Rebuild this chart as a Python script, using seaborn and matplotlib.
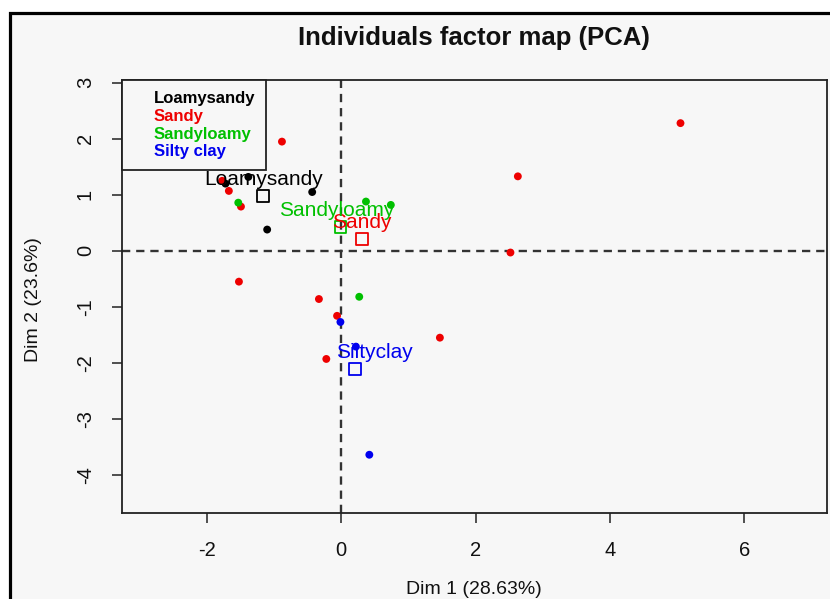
import matplotlib
matplotlib.use("Agg")
import matplotlib.pyplot as plt
from matplotlib.patches import Rectangle
from matplotlib.lines import Line2D
import seaborn as sns
import pandas as pd

# ---- data ----
groups = ["Loamysandy", "Sandy", "Sandyloamy", "Silty clay"]
loamy_x = [-1.72, -1.38, -0.43, -1.10]
loamy_y = [1.20, 1.32, 1.05, 0.38]
sandy_x = [5.05, 2.63, 2.52, -0.88, -1.77, -1.67, -1.49, -1.52, -0.33, -0.06, 1.47, -0.22]
sandy_y = [2.28, 1.33, -0.03, 1.95, 1.25, 1.07, 0.79, -0.55, -0.86, -1.16, -1.55, -1.93]
sloamy_x = [-1.53, 0.37, 0.74, 0.27]
sloamy_y = [0.86, 0.88, 0.82, -0.82]
silty_x = [-0.01, 0.22, 0.42]
silty_y = [-1.27, -1.71, -3.64]
centroid_x = [-1.16, 0.31, -0.01, 0.21]
centroid_y = [0.98, 0.21, 0.43, -2.11]
centroid_labels = ["Loamysandy", "Sandy", "Sandyloamy", "Siltyclay"]
xticks = [-2, 0, 2, 4, 6]
yticks = [-4, -3, -2, -1, 0, 1, 2, 3]

colors = ["#000000", "#ee0000", "#00c000", "#0000ee"]
palette = dict(zip(groups, colors))

df = pd.concat([
    pd.DataFrame({"x": loamy_x, "y": loamy_y, "g": groups[0]}),
    pd.DataFrame({"x": sandy_x, "y": sandy_y, "g": groups[1]}),
    pd.DataFrame({"x": sloamy_x, "y": sloamy_y, "g": groups[2]}),
    pd.DataFrame({"x": silty_x, "y": silty_y, "g": groups[3]}),
], ignore_index=True)
cdf = pd.DataFrame({"x": centroid_x, "y": centroid_y, "g": groups, "lab": centroid_labels})

sns.set_theme(style="white")
plt.rcParams["font.family"] = ["Liberation Sans", "DejaVu Sans"]
plt.rcParams["axes.unicode_minus"] = False

W, H = 830, 599
fig = plt.figure(figsize=(W / 100, H / 100), dpi=100, facecolor="white")
fig.patches.append(Rectangle((9.5 / W, -0.2), 1.2, 1.2 - 13.5 / H,
                             transform=fig.transFigure, facecolor="#f7f7f7",
                             edgecolor="black", linewidth=2.3, zorder=-5))

ax = fig.add_axes([122 / W, 1 - 513 / H, (827 - 122) / W, (513 - 80) / H])
ax.set_zorder(2)
ax.set_facecolor("#f7f7f7")

ax.axhline(0, color="#333333", ls=(0, (3.5, 2.5)), lw=1.7, zorder=1)
ax.axvline(0, color="#333333", ls=(0, (3.5, 2.5)), lw=1.7, zorder=1)

sns.scatterplot(data=df, x="x", y="y", hue="g", palette=palette, s=32,
                edgecolor="none", legend=False, ax=ax, zorder=3)
sns.scatterplot(data=cdf, x="x", y="y", hue="g", palette=palette, marker="s", s=70,
                linewidth=1.3, legend=False, ax=ax, zorder=3)
coll = ax.collections[-1]
coll.set_facecolor("none")
coll.set_edgecolor([palette[g] for g in cdf["g"]])

offsets = [(0, 12), (0, 12), (-3, 12), (14, 12)]
for (_, r), off in zip(cdf.iterrows(), offsets):
    ax.annotate(r["lab"], (r["x"], r["y"]), xytext=off, textcoords="offset points",
                ha="center", va="center", color=palette[r["g"]], fontsize=15, zorder=4)

ax.set_xlim(-3.26, 7.23)
ax.set_ylim(-4.68, 3.05)
ax.set_xticks(xticks)
ax.set_yticks(yticks)
ax.set_xticklabels([str(t) for t in xticks])
ax.set_yticklabels([str(t) for t in yticks], rotation=90, va="center")
ax.tick_params(direction="out", length=7.5, width=1.1, color="#222222",
               labelsize=14.5, left=True, bottom=True, labelcolor="#111111")
ax.tick_params(axis="x", pad=12.5)
ax.tick_params(axis="y", pad=12)
for sp in ax.spines.values():
    sp.set_color("#222222")
    sp.set_linewidth(1.3)
ax.set_xlabel("")
ax.set_ylabel("")

handles = [Line2D([], [], linestyle="none") for _ in groups]
leg = ax.legend(handles, groups, loc="upper left", borderaxespad=0, frameon=True,
                fancybox=False, edgecolor="#222222", framealpha=1, facecolor="#f7f7f7",
                handlelength=0.8, handletextpad=0.45, labelspacing=0.17,
                borderpad=0.65, prop={"weight": "bold", "size": 12})
leg.get_frame().set_linewidth(1.3)
for t, c in zip(leg.get_texts(), colors):
    t.set_color(c)

fig.text(474 / W, 1 - 38 / H, "Individuals factor map (PCA)", ha="center", va="center",
         fontsize=18.5, fontweight="bold", color="#111111")
fig.text(474 / W, 1 - 590 / H, "Dim 1 (28.63%)", ha="center", va="center", fontsize=14,
         color="#111111")
fig.text(33 / W, 1 - 300 / H, "Dim 2 (23.6%)", ha="center", va="center", fontsize=14,
         rotation=90, color="#111111")

fig.savefig("out.png", dpi=100, facecolor="white")
